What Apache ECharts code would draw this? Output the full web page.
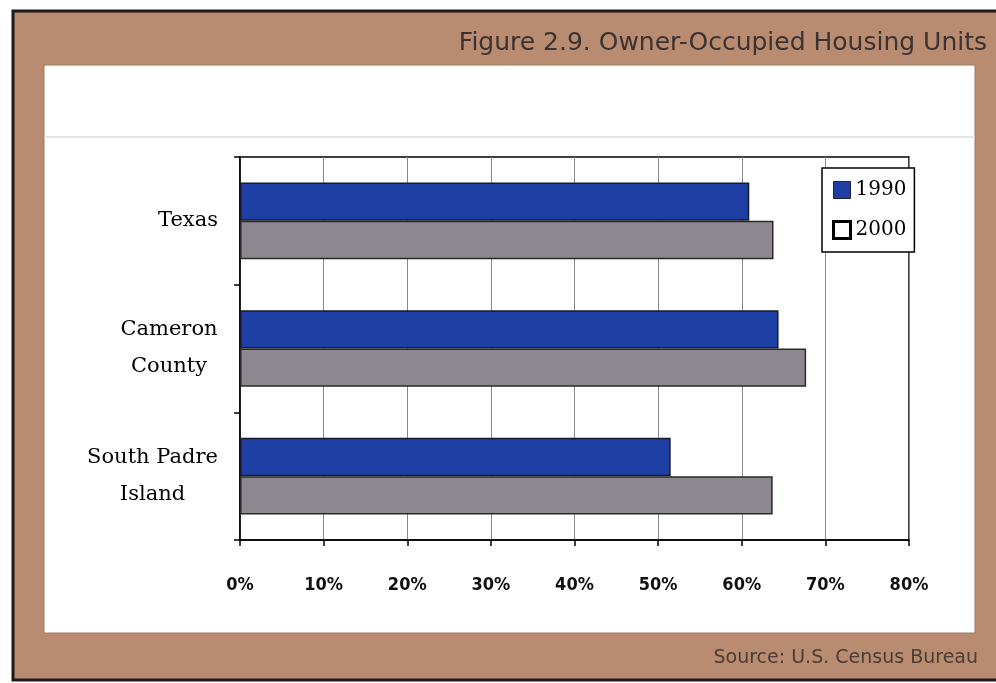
<!DOCTYPE html>
<html>
<head>
<meta charset="utf-8">
<script src="https://cdn.jsdelivr.net/npm/echarts@6/dist/echarts.min.js"></script>
<style>html,body{margin:0;padding:0;background:#fff;}#c{width:996px;height:683px;}</style>
</head>
<body>
<div id="c"></div>
<script>
const titleText = 'Figure 2.9. Owner-Occupied Housing Units';
const sourceText = 'Source: U.S. Census Bureau';
const categories = ['Texas', 'Cameron\nCounty', 'South Padre\nIsland'];
const tickLabels = ['0%','10%','20%','30%','40%','50%','60%','70%','80%'];
const series1990 = [60.9, 64.4, 51.5];
const series2000 = [63.8, 67.7, 63.7];
const seriesNames = ['1990', '2000'];

const catFontSize = 21, catFontFamily = '"DejaVu Serif"';
const mctx = document.createElement('canvas').getContext('2d');
mctx.font = catFontSize + 'px ' + catFontFamily;
function blockWidth(s) {
  return Math.ceil(Math.max.apply(null, s.split('\n').map(function (l) { return mctx.measureText(l).width; })));
}
const richStyles = {};
categories.forEach(function (c, i) {
  richStyles['c' + i] = { fontFamily: catFontFamily, fontSize: catFontSize, color: '#000', lineHeight: 37, align: 'center', width: blockWidth(c) };
});

const chart = echarts.init(document.getElementById('c'));
chart.setOption({
  backgroundColor: '#ffffff',
  animation: false,
  graphic: [
    { type: 'rect', z: -10, shape: { x: 13, y: 11, width: 990, height: 669 },
      style: { fill: '#b98b70', stroke: '#1a1a1a', lineWidth: 3 } },
    { type: 'rect', z: -9, shape: { x: 44, y: 65, width: 931, height: 568 },
      style: { fill: '#ffffff', stroke: '#9a7a66', lineWidth: 1 } },
    { type: 'line', z: -8, shape: { x1: 44, y1: 137, x2: 975, y2: 137 },
      style: { stroke: '#dedede', lineWidth: 1.5 } },
    { type: 'text', right: 9, top: 31,
      style: { text: titleText, font: '25px "DejaVu Sans"', fill: '#3b3232' } },
    { type: 'text', right: 18, top: 649,
      style: { text: sourceText, font: '19px "DejaVu Sans"', fill: '#4a3c36' } }
  ],
  grid: { left: 240, right: 87, top: 157, bottom: 143, show: true, borderColor: '#000', borderWidth: 1.5, backgroundColor: 'transparent' },
  legend: {
    orient: 'vertical',
    left: 822, top: 168,
    width: 95,
    padding: [12, 8, 12, 10],
    itemGap: 20,
    itemWidth: 17, itemHeight: 17,
    backgroundColor: '#fff',
    borderColor: '#000', borderWidth: 1.5,
    textStyle: { fontFamily: '"DejaVu Serif"', fontSize: 20, color: '#000', padding: [0,0,0,0] },
    data: [
      { name: seriesNames[0], icon: 'rect', itemStyle: { color: '#1e3fa3', borderColor: '#223', borderWidth: 1 } },
      { name: seriesNames[1], icon: 'rect', itemStyle: { color: '#ffffff', borderColor: '#000', borderWidth: 3 } }
    ]
  },
  xAxis: {
    type: 'value', min: 0, max: 80, interval: 10,
    axisLine: { show: true, lineStyle: { color: '#000', width: 1.5 } },
    axisTick: { show: true, length: 6, lineStyle: { color: '#000', width: 1.5 } },
    splitLine: { show: true, lineStyle: { color: '#888', width: 1 } },
    axisLabel: {
      margin: 36,
      fontFamily: '"DejaVu Sans Condensed", "DejaVu Sans"', fontWeight: 'bold', fontSize: 18, color: '#111',
      formatter: function (v) { return tickLabels[Math.round(v / 10)]; }
    }
  },
  yAxis: {
    type: 'category', inverse: true, data: categories,
    axisLine: { show: true, lineStyle: { color: '#000', width: 1.5 } },
    axisTick: { show: true, length: 6, lineStyle: { color: '#000', width: 1.5 } },
    axisLabel: {
      margin: 22, align: 'right',
      formatter: function (v, idx) {
        return v.split('\n').map(function (l) { return '{c' + idx + '|' + l + '}'; }).join('\n');
      },
      rich: richStyles
    }
  },
  series: [
    { name: seriesNames[0], type: 'bar', data: series1990, barGap: '0%', barCategoryGap: '40%',
      itemStyle: { color: '#1e3fa3', borderColor: '#1a1a2a', borderWidth: 1.5 } },
    { name: seriesNames[1], type: 'bar', data: series2000, barGap: '0%', barCategoryGap: '40%',
      itemStyle: { color: '#8d878f', borderColor: '#2a2a2a', borderWidth: 1.5 } }
  ]
});
</script>
</body>
</html>
